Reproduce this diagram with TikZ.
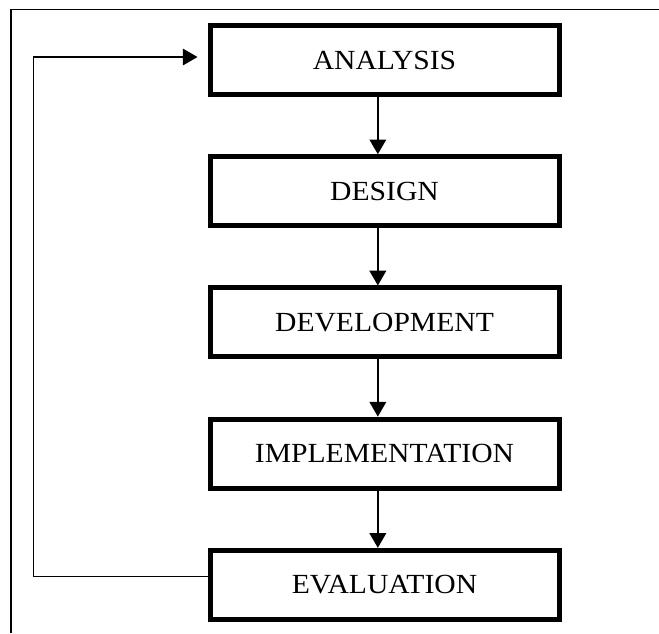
\documentclass[tikz,border=0pt]{standalone}
\usepackage{fontspec}
\setmainfont{Liberation Serif}[FakeStretch=1.07]
\usepackage{tikz}
\usetikzlibrary{arrows.meta}
\tikzstyle{phase} = [rectangle, minimum width=261.75pt, minimum height=51.75pt, text centered, draw=black, line width=3.75pt, font=\fontsize{20.75}{24}\selectfont]
\tikzstyle{arrow} = [line width=1pt,-{Triangle[length=11pt,width=12.5pt]}]
\tikzstyle{frame} = [line width=1pt]

\begin{document}
\begin{tikzpicture}[x=0.75pt, y=-0.75pt, node distance=98.4pt]
\useasboundingbox (0,0) rectangle (659,633);
\draw [frame] (11,633) -- (11,9.5) -- (659,9.5);
\node (analysis) [phase] at (384.5,60) {ANALYSIS};
\node (design) [phase, below of=analysis] {DESIGN};
\node (development) [phase, below of=design] {DEVELOPMENT};
\node (implementation) [phase, below of=development] {IMPLEMENTATION};
\node (evaluation) [phase, below of=implementation] {EVALUATION};
\draw [arrow] ([xshift=-5pt]analysis.south) -- ([xshift=-5pt]design.north);
\draw [arrow] ([xshift=-5pt]design.south) -- ([xshift=-5pt]development.north);
\draw [arrow] ([xshift=-5pt]development.south) -- ([xshift=-5pt]implementation.north);
\draw [arrow] ([xshift=-5pt]implementation.south) -- ([xshift=-5pt]evaluation.north);
\draw [arrow, line width=0.8pt, shorten >=7.5pt] ([yshift=6pt]evaluation.west) -- ++(-174,0) |- ([yshift=2.25pt]analysis.west);
\end{tikzpicture}
\end{document}
